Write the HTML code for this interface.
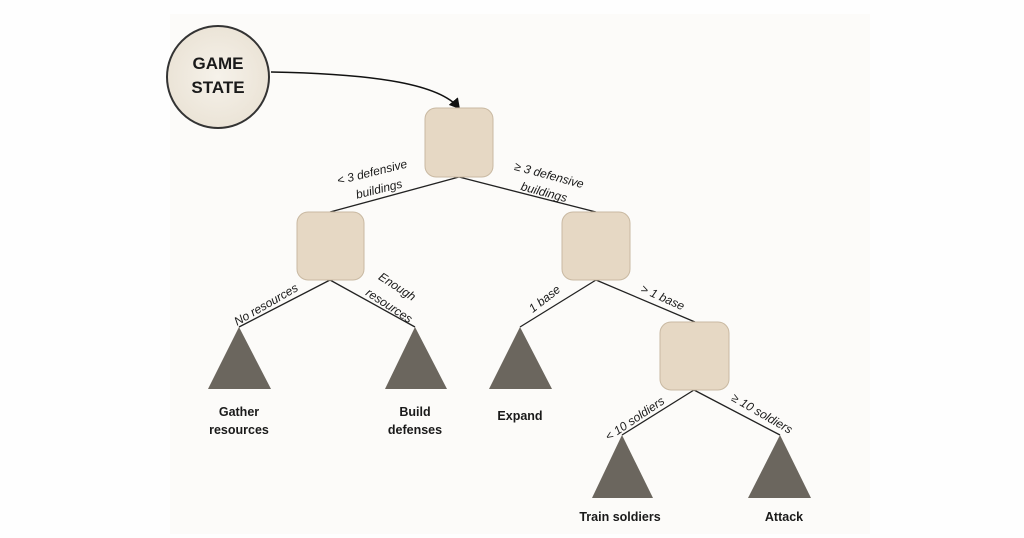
<!DOCTYPE html>
<html><head><meta charset="utf-8"><style>
html,body{margin:0;padding:0;background:#fff;}
svg{display:block}
text{font-family:"Liberation Sans",sans-serif;fill:#1a1a1a}
.l{font-size:12px;font-style:italic}
.b{font-size:12.5px;font-weight:bold}
</style></head><body>
<svg width="1024" height="538" viewBox="0 0 1024 538" xmlns="http://www.w3.org/2000/svg">
<defs>
<radialGradient id="g" cx="50%" cy="50%" r="60%">
<stop offset="0" stop-color="#f6f2ea"/><stop offset="1" stop-color="#e9e1d3"/>
</radialGradient>
<marker id="ah" markerWidth="8" markerHeight="8" refX="6" refY="4" orient="auto"><path d="M0,0 L7,4 L0,8 z" fill="#111"/></marker>
</defs>
<rect x="0" y="0" width="1024" height="538" fill="#fefefe"/>
<rect x="170" y="14" width="700" height="520" fill="#fcfbf9"/>
<circle cx="218" cy="77" r="51" fill="url(#g)" stroke="#333" stroke-width="2"/>
<text class="b" x="218" y="69" text-anchor="middle" style="font-size:17px">GAME</text>
<text class="b" x="218" y="93" text-anchor="middle" style="font-size:17px">STATE</text>
<path d="M271,72 C380,74 440,85 459,108" fill="none" stroke="#111" stroke-width="1.5" marker-end="url(#ah)"/>
<g stroke="#222" stroke-width="1.3" fill="none">
<line x1="459" y1="177" x2="330" y2="212"/>
<line x1="459" y1="177" x2="596" y2="212"/>
<line x1="330" y1="280" x2="239" y2="327"/>
<line x1="330" y1="280" x2="415" y2="327"/>
<line x1="596" y1="280" x2="520" y2="327"/>
<line x1="596" y1="280" x2="695" y2="322"/>
<line x1="694" y1="390" x2="622" y2="435"/>
<line x1="694" y1="390" x2="780" y2="435"/>
</g>
<g fill="#e6d8c4" stroke="#c9b9a2" stroke-width="1">
<rect x="425" y="108" width="68" height="69" rx="11"/>
<rect x="297" y="212" width="67" height="68" rx="11"/>
<rect x="562" y="212" width="68" height="68" rx="11"/>
<rect x="660" y="322" width="69" height="68" rx="11"/>
</g>
<g fill="#6b665e">
<polygon points="239,327 208,389 271,389"/>
<polygon points="415,327 385,389 447,389"/>
<polygon points="520,327 489,389 552,389"/>
<polygon points="622,435 592,498 653,498"/>
<polygon points="780,435 748,498 811,498"/>
</g>
<text class="l" transform="translate(373,176) rotate(-14)" text-anchor="middle">&lt; 3 defensive</text>
<text class="l" transform="translate(380,193) rotate(-14)" text-anchor="middle">buildings</text>
<text class="l" transform="translate(548,179) rotate(15)" text-anchor="middle">≥ 3 defensive</text>
<text class="l" transform="translate(543,196) rotate(15)" text-anchor="middle">buildings</text>
<text class="l" transform="translate(268,308) rotate(-30)" text-anchor="middle">No resources</text>
<text class="l" transform="translate(395,290) rotate(33)" text-anchor="middle">Enough</text>
<text class="l" transform="translate(387,309) rotate(33)" text-anchor="middle">resources</text>
<text class="l" transform="translate(547,302) rotate(-38)" text-anchor="middle">1 base</text>
<text class="l" transform="translate(661,301) rotate(24)" text-anchor="middle">&gt; 1 base</text>
<text class="l" transform="translate(637,422) rotate(-34)" text-anchor="middle">&lt; 10 soldiers</text>
<text class="l" transform="translate(760,417) rotate(30)" text-anchor="middle">≥ 10 soldiers</text>
<text class="b" x="239" y="416" text-anchor="middle">Gather</text>
<text class="b" x="239" y="434" text-anchor="middle">resources</text>
<text class="b" x="415" y="416" text-anchor="middle">Build</text>
<text class="b" x="415" y="434" text-anchor="middle">defenses</text>
<text class="b" x="520" y="420" text-anchor="middle">Expand</text>
<text class="b" x="620" y="521" text-anchor="middle">Train soldiers</text>
<text class="b" x="784" y="521" text-anchor="middle">Attack</text>
</svg>
</body></html>
